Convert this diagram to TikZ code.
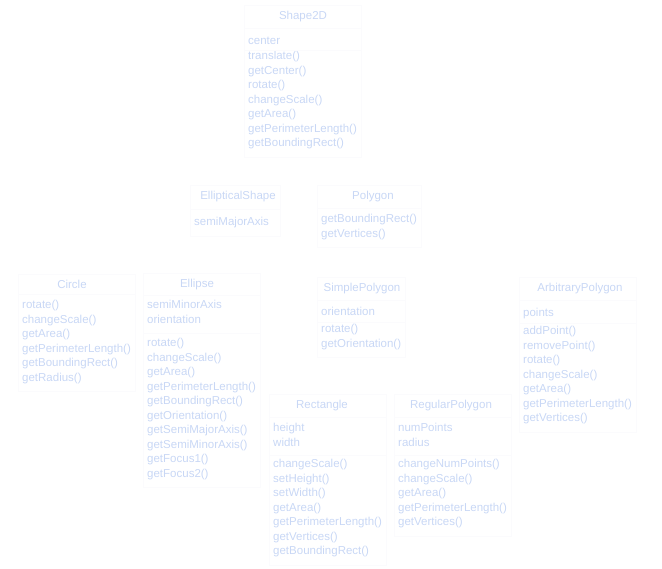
\documentclass[tikz,border=0pt]{standalone}
\usepackage{fontspec}
\setmainfont{Liberation Sans}
\usetikzlibrary{fit,calc}
\definecolor{umltext}{RGB}{200,215,245}
\definecolor{umlline}{RGB}{251,251,253}
\tikzset{
  classname/.style={anchor=base,inner sep=0pt,text=umltext,font=\fontsize{11.5}{14.5}\selectfont},
  members/.style={anchor=north west,align=left,inner sep=0pt,text=umltext,
    font=\fontsize{11.5}{14.5}\selectfont,execute at begin node=\strut},
  classbox/.style={draw=umlline,inner xsep=4pt,inner ysep=6pt},
  classline/.style={draw=umlline}
}
\begin{document}
\begin{tikzpicture}[x=1pt,y=-1pt]
\useasboundingbox (0,0) rectangle (662,569);
% Shape2D
\node[classname] (shape2d) at (303,20) {Shape2D};
\node[members] (shape2d-a) at (248,34) {center};
\node[members] (shape2d-o) at (248,51) {translate()\\getCenter()\\rotate()\\changeScale()\\getArea()\\getPerimeterLength()\\getBoundingRect()};
% second row
\node[classname] (elliptical) at (238,200) {EllipticalShape};
\node[members] (elliptical-a) at (194,215) {semiMajorAxis};
\node[classname] (polygon) at (373,200) {Polygon};
\node[members] (polygon-o) at (321,214) {getBoundingRect()\\getVertices()};
% third row
\node[classname] (circle) at (72,289) {Circle};
\node[members] (circle-o) at (22,300) {rotate()\\changeScale()\\getArea()\\getPerimeterLength()\\getBoundingRect()\\getRadius()};
\node[classname] (ellipse) at (197,288) {Ellipse};
\node[members] (ellipse-a) at (147,300) {semiMinorAxis\\orientation};
\node[members] (ellipse-o) at (147,338) {rotate()\\changeScale()\\getArea()\\getPerimeterLength()\\getBoundingRect()\\getOrientation()\\getSemiMajorAxis()\\getSemiMinorAxis()\\getFocus1()\\getFocus2()};
\node[classname] (simple) at (362,292) {SimplePolygon};
\node[members] (simple-a) at (321,305) {orientation};
\node[members] (simple-o) at (321,324) {rotate()\\getOrientation()};
\node[classname] (arbitrary) at (580,292) {ArbitraryPolygon};
\node[members] (arbitrary-a) at (523,306) {points};
\node[members] (arbitrary-o) at (523,326) {addPoint()\\removePoint()\\rotate()\\changeScale()\\getArea()\\getPerimeterLength()\\getVertices()};
% fourth row
\node[classname] (rectangle) at (322,409) {Rectangle};
\node[members] (rectangle-a) at (273,423) {height\\width};
\node[members] (rectangle-o) at (273,459) {changeScale()\\setHeight()\\setWidth()\\getArea()\\getPerimeterLength()\\getVertices()\\getBoundingRect()};
\node[classname] (regular) at (451,409) {RegularPolygon};
\node[members] (regular-a) at (398,423) {numPoints\\radius};
\node[members] (regular-o) at (398,459) {changeNumPoints()\\changeScale()\\getArea()\\getPerimeterLength()\\getVertices()};
% faint class boxes
\node[classbox,fit=(shape2d) (shape2d-a) (shape2d-o)] (shape2d-box) {};
\node[classbox,fit=(elliptical) (elliptical-a)] (elliptical-box) {};
\node[classbox,fit=(polygon) (polygon-o)] (polygon-box) {};
\node[classbox,fit=(circle) (circle-o)] (circle-box) {};
\node[classbox,fit=(ellipse) (ellipse-a) (ellipse-o)] (ellipse-box) {};
\node[classbox,fit=(simple) (simple-a) (simple-o)] (simple-box) {};
\node[classbox,fit=(arbitrary) (arbitrary-a) (arbitrary-o)] (arbitrary-box) {};
\node[classbox,fit=(rectangle) (rectangle-a) (rectangle-o)] (rectangle-box) {};
\node[classbox,fit=(regular) (regular-a) (regular-o)] (regular-box) {};
\foreach \c/\f in {shape2d/shape2d-a,elliptical/elliptical-a,polygon/polygon-o,circle/circle-o,ellipse/ellipse-a,simple/simple-a,arbitrary/arbitrary-a,rectangle/rectangle-a,regular/regular-a}
  \draw[classline] ($(\c-box.west |- \c.south)!.5!(\c-box.west |- \f.north)$) -- ($(\c-box.east |- \c.south)!.5!(\c-box.east |- \f.north)$);
\foreach \c in {shape2d,ellipse,simple,arbitrary,rectangle,regular}
  \draw[classline] ($(\c-box.west |- \c-a.south)!.5!(\c-box.west |- \c-o.north)$) -- ($(\c-box.east |- \c-a.south)!.5!(\c-box.east |- \c-o.north)$);
\end{tikzpicture}
\end{document}
